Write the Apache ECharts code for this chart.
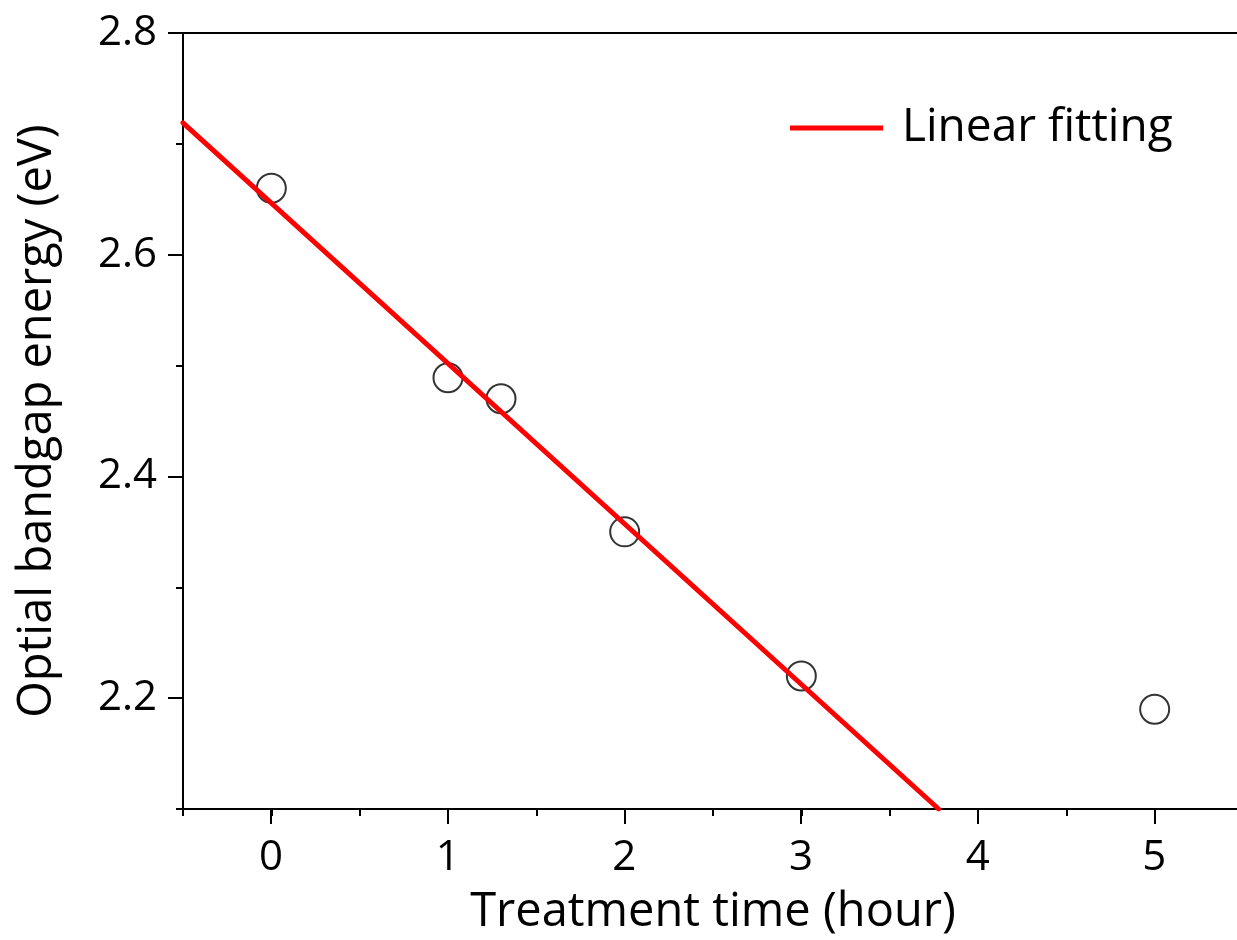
<!DOCTYPE html>
<html>
<head>
<meta charset="utf-8">
<script src="https://cdn.jsdelivr.net/npm/echarts@6/dist/echarts.min.js"></script>
<style>
html,body{margin:0;padding:0;background:#fff;}
#chart{width:1237px;height:940px;}
</style>
</head>
<body>
<div id="chart"></div>
<script>
// Measured points
const timeHours = [0, 1, 1.3, 2, 3, 5];
const bandgapEV = [2.66, 2.489, 2.47, 2.35, 2.22, 2.19];
// Linear fit line endpoints
const fitX = [-0.5, 3.777];
const fitY = [2.719, 2.1];
const xTitle = 'Treatment time (hour)';
const yTitle = 'Optial bandgap energy (eV)';
const legendName = 'Linear fitting';

const FONT = 'Open Sans';
const FS = 42;      // tick labels
const FS_T = 47;    // axis titles
const FS_L = 46;    // legend

const pointData = timeHours.map((x, i) => [x, bandgapEV[i]]);
const fitData = fitX.map((x, i) => [x, fitY[i]]);

const chart = echarts.init(document.getElementById('chart'), null, {renderer: 'canvas'});
const lineBlack = {show: true, onZero: false, lineStyle: {color: '#000', width: 2}};
chart.setOption({
  animation: false,
  backgroundColor: '#fff',
  textStyle: {fontFamily: FONT, color: '#000'},
  grid: [
    {left: 183, top: 33, width: 1060, height: 776, outerBoundsMode: 'none', containLabel: false},
    {left: 271, top: 33, width: 883.3, height: 776, outerBoundsMode: 'none', containLabel: false},
    {left: 183, top: 33, width: 1060, height: 665.1, outerBoundsMode: 'none', containLabel: false}
  ],
  legend: {
    data: [legendName],
    left: 785, top: 100,
    icon: 'rect', itemWidth: 93, itemHeight: 5,
    textStyle: {fontFamily: FONT, fontSize: FS_L, color: '#000', padding: [0, 0, 0, 14]}
  },
  xAxis: [
    {gridIndex: 0, type: 'value', min: -0.5, max: 5.5, interval: 0.5, position: 'bottom',
     axisLine: lineBlack, axisTick: {show: true, inside: false, length: 7, lineStyle: {color: '#000', width: 2}},
     axisLabel: {show: false}, splitLine: {show: false},
     name: xTitle, nameLocation: 'middle', nameGap: 80,
     nameTextStyle: {fontFamily: FONT, fontSize: FS_T, color: '#000'}},
    {gridIndex: 0, type: 'value', min: -0.5, max: 5.5, position: 'top',
     axisLine: lineBlack, axisTick: {show: false}, axisLabel: {show: false}, splitLine: {show: false}},
    {gridIndex: 1, type: 'value', min: 0, max: 5, interval: 1, position: 'bottom',
     axisLine: {show: false, onZero: false}, axisTick: {show: true, length: 15, lineStyle: {color: '#000', width: 2}},
     axisLabel: {show: true, margin: 28, fontFamily: FONT, fontSize: FS, color: '#000'},
     splitLine: {show: false}},
    {gridIndex: 2, type: 'value', min: -0.5, max: 5.5, show: false}
  ],
  yAxis: [
    {gridIndex: 0, type: 'value', min: 2.1, max: 2.8, interval: 0.1,
     axisLine: lineBlack, axisTick: {show: true, inside: false, length: 7, lineStyle: {color: '#000', width: 2}},
     axisLabel: {show: false}, splitLine: {show: false},
     name: yTitle, nameLocation: 'middle', nameGap: 122,
     nameTextStyle: {fontFamily: FONT, fontSize: FS_T, color: '#000'}},
    {gridIndex: 1, type: 'value', min: 2.1, max: 2.8, show: false},
    {gridIndex: 2, type: 'value', min: 2.2, max: 2.8, interval: 0.2,
     axisLine: {show: false, onZero: false}, axisTick: {show: true, length: 15, lineStyle: {color: '#000', width: 2}},
     axisLabel: {show: true, margin: 26, fontFamily: FONT, fontSize: FS, color: '#000',
       formatter: v => v.toFixed(1)},
     splitLine: {show: false}}
  ],
  series: [
    {name: 'data', type: 'scatter', xAxisIndex: 0, yAxisIndex: 0, data: pointData,
     symbol: 'circle', symbolSize: 29, z: 2,
     itemStyle: {color: 'rgba(0,0,0,0)', borderColor: '#000', borderWidth: 2}},
    {name: legendName, type: 'line', xAxisIndex: 0, yAxisIndex: 0, data: fitData,
     showSymbol: false, symbol: 'none', z: 3,
     lineStyle: {color: '#ff0000', width: 5, cap: 'round'}, itemStyle: {color: '#ff0000'}}
  ]
});
</script>
</body>
</html>
